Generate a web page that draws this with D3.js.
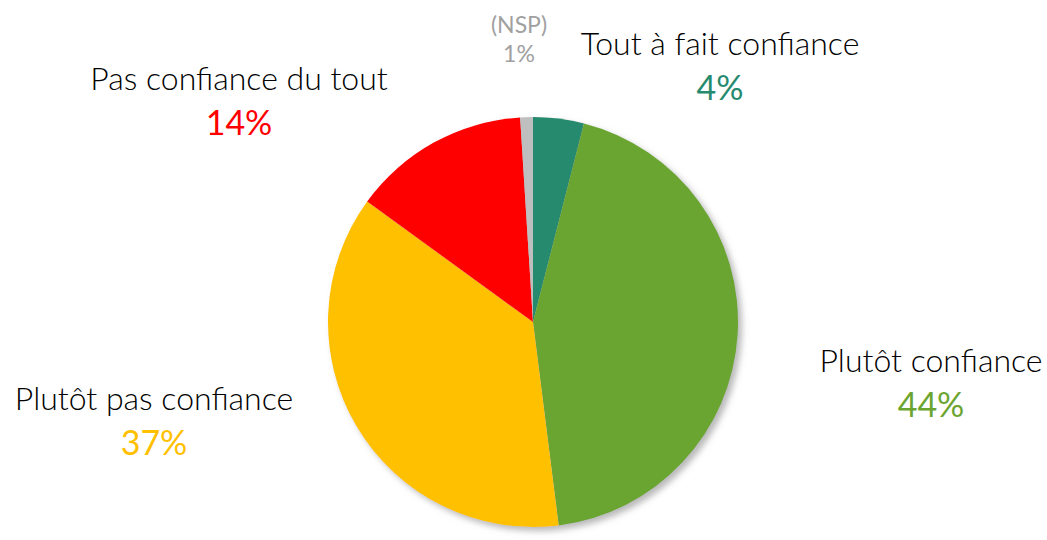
<!DOCTYPE html>
<html>
<head>
<meta charset="utf-8">
<script src="https://cdn.jsdelivr.net/npm/d3@7"></script>
<style>
	body { margin: 0; background: #fff; }
	svg { display: block; }
</style>
</head>
<body>
<svg id="chart" width="1047" height="540"></svg>
<script>
// DATA
let categories = ['Tout à fait confiance', 'Plutôt confiance', 'Plutôt pas confiance', 'Pas confiance du tout', '(NSP)'];
let values = [4, 44, 37, 14, 1];
let colors = ['#268A6E', '#6BA530', '#FFC000', '#FF0000', '#BFBFBF'];
let labelColors = ['#268A6E', '#6BA530', '#FFC000', '#FF0000', '#A0A0A0'];

// label anchors (centre x, baseline y of the category line)
let labelPos = [[720, 55], [931, 372], [154, 410], [239, 90], [519, 33]];

let svg = d3.select('#chart');

let defs = svg.append('defs');
defs.append('filter')
	.attr('id', 'shadow')
	.attr('x', '-10%').attr('y', '-10%')
	.attr('width', '130%').attr('height', '130%')
	.append('feDropShadow')
	.attr('dx', 4).attr('dy', 4)
	.attr('stdDeviation', 3)
	.attr('flood-color', '#808080')
	.attr('flood-opacity', 0.55);

let pie = d3.pie()
	.sort(null)
	.value(d => d);

let arc = d3.arc()
	.innerRadius(0)
	.outerRadius(205);

let g = svg.append('g')
	.attr('transform', 'translate(533,322)')
	.attr('filter', 'url(#shadow)');

g.selectAll('path')
	.data(pie(values))
	.enter()
	.append('path')
	.attr('d', arc)
	.attr('fill', (d, i) => colors[i]);

let labels = svg.append('g')
	.selectAll('g')
	.data(categories)
	.enter()
	.append('g')
	.attr('transform', (d, i) => 'translate(' + labelPos[i] + ')');

labels.append('text')
	.attr('text-anchor', 'middle')
	.style('font-family', 'Lato, sans-serif')
	.style('font-weight', (d, i) => i === 4 ? 400 : 300)
	.style('font-size', (d, i) => i === 4 ? '23px' : '32px')
	.style('fill', (d, i) => i === 4 ? '#A0A0A0' : '#000')
	.text(d => d);

labels.append('text')
	.attr('text-anchor', 'middle')
	.attr('y', (d, i) => i === 4 ? 29 : 45)
	.style('font-family', 'Lato, sans-serif')
	.style('font-weight', 400)
	.style('font-size', (d, i) => i === 4 ? '23px' : '34px')
	.style('fill', (d, i) => labelColors[i])
	.text((d, i) => values[i] + '%');
</script>
</body>
</html>
